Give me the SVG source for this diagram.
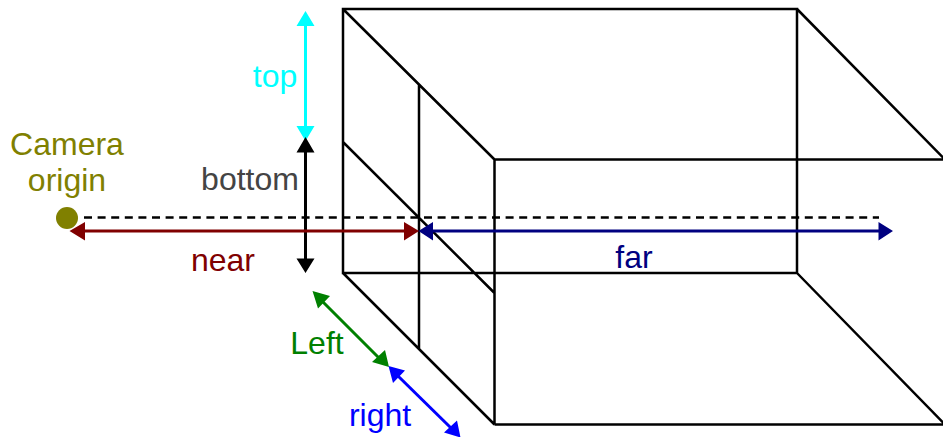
<svg xmlns="http://www.w3.org/2000/svg" width="943" height="437" viewBox="0 0 943 437">
<style>
text{font-family:"Liberation Sans",Arial,sans-serif;font-size:32px;text-anchor:middle}
.b{fill:none;stroke:#000;stroke-width:2.500}
.a{fill:none;stroke-width:3}
</style>
<rect width="943" height="437" fill="#fff"/>
<g id="frustum">
<path class="b" d="M343 9H797V273H343ZM494.500 159.500H943M494.500 424.500H943M494.500 159.500V424.500M343 9L494.500 159.500M797 9L945 159.500M343 273L494.500 424.500M797 273L945 424.500M343 142L494.500 293M419 85V349"/>
</g>
<g id="connectors">
<path d="M84 217.500H879" fill="none" stroke="#000" stroke-width="2.600" stroke-dasharray="8 5.600"/>
<g id="top-arrow"><path class="a" stroke="#0ff" d="M305.500 24V128"/><path fill="#0ff" d="M305.500 11L296.500 26H314.500ZM305.500 141L296.500 126H314.500Z"/></g>
<g id="bottom-arrow"><path class="a" stroke="#000" d="M305.500 150V260"/><path fill="#000" d="M305.500 137L296.500 152.500H314.500ZM305.500 273L296.500 258.500H314.500Z"/></g>
<g id="near-arrow"><path class="a" stroke="#800000" d="M82 231H406"/><path fill="#800000" d="M69.500 231L85 222V240.500ZM419 231L404 222V240.500Z"/></g>
<g id="far-arrow"><path class="a" stroke="#000080" d="M431 231H881"/><path fill="#000080" d="M418.500 231L433 222V240.500ZM893 231L878.500 222V240.500Z"/></g>
<g id="left-arrow"><path class="a" stroke="#008000" d="M322 301L379 358"/><path fill="#008000" d="M312.500 291L330 296L318 308.500ZM389 367L372 362L385 350Z"/></g>
<g id="right-arrow"><path class="a" stroke="#00f" d="M397 375L451 428"/><path fill="#00f" d="M388.500 366L405 370.500L393 383ZM460.500 437.500L444 432.500L457 420.500Z"/></g>
</g>
<g id="camera"><circle cx="67" cy="218" r="11" fill="#808000"/><text x="67" y="155" fill="#808000">Camera</text><text x="67" y="191" fill="#808000">origin</text></g>
<g id="labels">
<text x="275" y="87" fill="#0ff">top</text>
<text x="250" y="190" fill="#444">bottom</text>
<text x="223" y="271" fill="#800000">near</text>
<text x="634" y="268" fill="#000080">far</text>
<text x="317" y="354" fill="#008000">Left</text>
<text x="380" y="426" fill="#00f">right</text>
</g>
</svg>
